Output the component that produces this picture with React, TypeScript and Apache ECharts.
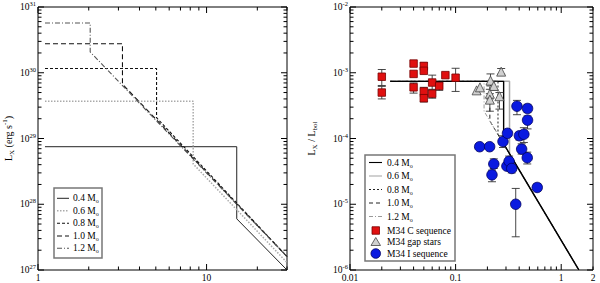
import React, { useEffect, useRef } from 'react';
import * as echarts from 'echarts';

const FONT = 'Liberation Serif';

// ---------- Left panel (L_X vs period) ----------
const leftX = [1, 30];
const leftY = [1e27, 1e31];
const massNames = ['0.4', '0.6', '0.8', '1.0', '1.2'];
const lTrack04 = [[1.1, 7.5e28], [15.1, 7.5e28], [15.1, 6.0e27], [30, 1.0e27]];
const lTrack06 = [[1.1, 3.7e29], [8.33, 3.7e29], [8.33, 4.1e28], [30, 1.3e27]];
const lTrack08 = [[1.1, 1.16e30], [5.05, 1.16e30], [5.05, 2.07e29], [30, 1.6e27]];
const lTrack10 = [[1.1, 2.76e30], [3.17, 2.76e30], [3.17, 6.7e29], [30, 1.6e27]];
const lTrack12 = [[1.1, 5.7e30], [2.04, 5.7e30], [2.04, 2.07e30], [30, 1.6e27]];

// ---------- Right panel (L_X/L_bol vs Rossby) ----------
const rightX = [0.01, 2];
const rightY = [1e-6, 1e-2];
const rTrack04 = [[0.024, 7.4e-4], [0.285, 7.4e-4], [0.285, 8.3e-5], [1.47, 1e-6]];
const rTrack06 = [[0.024, 7.4e-4], [0.324, 7.4e-4], [0.324, 5.8e-5], [1.47, 1e-6]];
const rTrack08 = [[0.024, 7.4e-4], [0.252, 7.4e-4], [0.252, 1.15e-4], [1.47, 1e-6]];
const rTrack10 = [[0.024, 7.4e-4], [0.211, 7.4e-4], [0.211, 1.85e-4], [1.47, 1e-6]];
const rTrack12 = [[0.024, 7.4e-4], [0.186, 7.4e-4], [0.186, 2.6e-4], [1.47, 1e-6]];

// [x, y, errLow, errHigh]
const cSequence: (number | null)[][] = [
  [0.02, 8.7e-4, 6.4e-4, 1.12e-3],
  [0.02, 5.0e-4, 4.0e-4, 6.2e-4],
  [0.04, 1.38e-3, null, null],
  [0.04, 9.6e-4, null, null],
  [0.04, 6.0e-4, 4.9e-4, 7.0e-4],
  [0.05, 1.27e-3, 1.1e-3, 1.42e-3],
  [0.05, 1.07e-3, null, null],
  [0.05, 5.2e-4, 4.4e-4, 6.0e-4],
  [0.05, 4.1e-4, 3.6e-4, 4.6e-4],
  [0.06, 7.1e-4, 5.6e-4, 9.2e-4],
  [0.06, 4.8e-4, 4.1e-4, 5.5e-4],
  [0.07, 6.3e-4, 5.4e-4, 7.0e-4],
  [0.08, 9.2e-4, null, null],
  [0.1, 8.4e-4, 5.2e-4, 1.17e-3],
];
const gapStars: (number | null)[][] = [
  [0.158, 5.4e-4, null, null],
  [0.17, 6.0e-4, null, null],
  [0.214, 7.6e-4, 6.3e-4, 9.6e-4],
  [0.23, 6.3e-4, 5.4e-4, 7.4e-4],
  [0.211, 4.8e-4, 4.0e-4, 5.6e-4],
  [0.211, 3.9e-4, 2.6e-4, 4.8e-4],
  [0.26, 4.4e-4, 2.8e-4, 5.0e-4],
  [0.27, 1.04e-3, 9.5e-4, 1.16e-3],
];
const iSequence: (number | null)[][] = [
  [0.169, 7.5e-5, null, null],
  [0.21, 7.5e-5, null, null],
  [0.23, 4.1e-5, 3.5e-5, 4.9e-5],
  [0.221, 2.8e-5, 2.2e-5, 3.3e-5],
  [0.281, 9.0e-5, 7.3e-5, 1.1e-4],
  [0.31, 1.2e-4, null, null],
  [0.306, 3.8e-5, null, null],
  [0.321, 4.5e-5, 3.9e-5, 5.4e-5],
  [0.34, 3.5e-5, 3.0e-5, 4.0e-5],
  [0.381, 3.1e-4, 2.3e-4, 3.8e-4],
  [0.402, 1.1e-4, 9.5e-5, 1.25e-4],
  [0.371, 1.0e-5, 3.2e-6, 1.74e-5],
  [0.422, 6.9e-5, 5.8e-5, 8.3e-5],
  [0.443, 1.16e-4, 8.7e-5, 1.46e-4],
  [0.48, 2.86e-4, 2.5e-4, 3.3e-4],
  [0.48, 1.9e-4, 1.4e-4, 2.2e-4],
  [0.477, 5.1e-5, 4.1e-5, 6.2e-5],
  [0.593, 1.8e-5, 1.6e-5, 2.05e-5],
];
const pointLabels = ['M34 C sequence', 'M34 gap stars', 'M34 I sequence'];

// ---------- helpers ----------
function logTicks(lo: number, hi: number) {
  const out: { v: number; major: number }[] = [];
  for (let k = Math.floor(Math.log10(lo)); k <= Math.ceil(Math.log10(hi)); k++) {
    for (let m = 1; m <= 9; m++) {
      const v = Number((m * Math.pow(10, k)).toPrecision(6));
      if (v >= lo * 0.9999 && v <= hi * 1.0001) out.push({ v, major: m === 1 ? 1 : 0 });
    }
  }
  return out;
}

function tickSeries(idx: number, xr: number[], yr: number[]) {
  const xt = logTicks(xr[0], xr[1]);
  const yt = logTicks(yr[0], yr[1]);
  const data = [
    ...xt.map((t) => [t.v, yr[0], 0, t.major]),
    ...yt.map((t) => [xr[0], t.v, 1, t.major]),
  ];
  return {
    type: 'custom',
    xAxisIndex: idx,
    yAxisIndex: idx,
    silent: true,
    clip: false,
    z: 10,
    data,
    renderItem: (params: any, api: any) => {
      const cs = params.coordSys;
      const p = api.coord([api.value(0), api.value(1)]);
      const len = api.value(3) ? 6 : 3.5;
      const style = { stroke: '#000', lineWidth: 1 };
      if (api.value(2) === 0) {
        const x = p[0];
        const b = cs.y + cs.height;
        return {
          type: 'group',
          children: [
            { type: 'line', shape: { x1: x, y1: b, x2: x, y2: b - len }, style },
            { type: 'line', shape: { x1: x, y1: cs.y, x2: x, y2: cs.y + len }, style },
          ],
        };
      }
      const y = p[1];
      const r = cs.x + cs.width;
      return {
        type: 'group',
        children: [
          { type: 'line', shape: { x1: cs.x, y1: y, x2: cs.x + len, y2: y }, style },
          { type: 'line', shape: { x1: r, y1: y, x2: r - len, y2: y }, style },
        ],
      };
    },
  };
}

function errSeries(idx: number, rows: (number | null)[][]) {
  return {
    type: 'custom',
    xAxisIndex: idx,
    yAxisIndex: idx,
    silent: true,
    z: 3,
    data: rows.filter((d) => d[2] != null).map((d) => [d[0], d[1], d[2], d[3]]),
    renderItem: (params: any, api: any) => {
      const lo = api.coord([api.value(0), api.value(2)]);
      const hi = api.coord([api.value(0), api.value(3)]);
      const w = 4;
      const style = { stroke: '#333', lineWidth: 0.9 };
      return {
        type: 'group',
        children: [
          { type: 'line', shape: { x1: lo[0], y1: lo[1], x2: hi[0], y2: hi[1] }, style },
          { type: 'line', shape: { x1: lo[0] - w, y1: lo[1], x2: lo[0] + w, y2: lo[1] }, style },
          { type: 'line', shape: { x1: hi[0] - w, y1: hi[1], x2: hi[0] + w, y2: hi[1] }, style },
        ],
      };
    },
  };
}

const richTick = {
  b: { fontFamily: FONT, fontSize: 9.5, color: '#000', lineHeight: 14 },
  s: { fontFamily: FONT, fontSize: 6.5, color: '#000', lineHeight: 8, verticalAlign: 'top' },
};
const richName = {
  b: { fontFamily: FONT, fontSize: 10, color: '#000', lineHeight: 14 },
  sub: { fontFamily: FONT, fontSize: 7, color: '#000', lineHeight: 7, verticalAlign: 'bottom' },
  sup: { fontFamily: FONT, fontSize: 7, color: '#000', lineHeight: 8, verticalAlign: 'top' },
};
const richLeg = {
  b: { fontFamily: FONT, fontSize: 9.5, color: '#000', lineHeight: 12 },
  s: { fontFamily: FONT, fontSize: 6, color: '#000', lineHeight: 6, verticalAlign: 'bottom' },
};

const expFmt = (v: number) => `{b|10}{s|${Math.round(Math.log10(v))}}`;
const numFmt = (v: number) => String(Number(v.toPrecision(6)));

const leftStyles = [
  { color: '#222', width: 1, type: 'solid' },
  { color: '#aaa', width: 1.5, type: [1.5, 1.5] },
  { color: '#111', width: 1.1, type: [3, 2] },
  { color: '#111', width: 1.1, type: [5, 3] },
  { color: '#555', width: 1.1, type: [5, 2, 1, 2] },
];
const rightStyles = [
  { color: '#000', width: 1.4, type: 'solid' },
  { color: '#aaa', width: 1.5, type: 'solid' },
  { color: '#222', width: 1, type: [2, 2] },
  { color: '#222', width: 1, type: [4, 3] },
  { color: '#999', width: 1, type: [4, 2, 1, 2] },
];
const leftTracks = [lTrack04, lTrack06, lTrack08, lTrack10, lTrack12];
const rightTracks = [rTrack04, rTrack06, rTrack08, rTrack10, rTrack12];

function legendGraphics() {
  const g: any[] = [];
  // left legend box
  g.push({ type: 'rect', shape: { x: 54, y: 188, width: 48, height: 70 }, style: { fill: '#fff', stroke: '#777', lineWidth: 1.5 }, z: 20 });
  const lRows = [198.3, 210.7, 223.3, 236, 248.3];
  massNames.forEach((m, i) => {
    const s = leftStyles[i];
    g.push({ type: 'line', shape: { x1: 57, y1: lRows[i], x2: 69, y2: lRows[i] }, style: { stroke: s.color, lineWidth: s.width, lineDash: s.type === 'solid' ? null : s.type }, z: 21 });
    g.push({ type: 'text', x: 73, y: lRows[i], style: { text: `{b|${m} M}{s|o}`, rich: richLeg, verticalAlign: 'middle', align: 'left' }, z: 21 });
  });
  // right legend box
  g.push({ type: 'rect', shape: { x: 365, y: 155, width: 90, height: 106 }, style: { fill: '#fff', stroke: '#777', lineWidth: 1.5 }, z: 20 });
  const rRows = [162.5, 176, 189.5, 203, 216.5];
  massNames.forEach((m, i) => {
    const s = rightStyles[i];
    g.push({ type: 'line', shape: { x1: 369, y1: rRows[i], x2: 382, y2: rRows[i] }, style: { stroke: s.color, lineWidth: Math.min(s.width, 1.1), lineDash: s.type === 'solid' ? null : s.type }, z: 21 });
    g.push({ type: 'text', x: 387, y: rRows[i], style: { text: `{b|${m} M}{s|o}`, rich: richLeg, verticalAlign: 'middle', align: 'left' }, z: 21 });
  });
  const pRows = [230.5, 242, 253.5];
  g.push({ type: 'rect', shape: { x: 372, y: pRows[0] - 3.75, width: 7.5, height: 7.5 }, style: { fill: '#e01010', stroke: '#700', lineWidth: 0.8 }, z: 21 });
  g.push({ type: 'polygon', shape: { points: [[375.75, pRows[1] - 4.5], [371, pRows[1] + 3.5], [380.5, pRows[1] + 3.5]] }, style: { fill: '#d0d0d0', stroke: '#444', lineWidth: 0.8 }, z: 21 });
  g.push({ type: 'circle', shape: { cx: 375.75, cy: pRows[2], r: 4.8 }, style: { fill: '#0a1ae0', stroke: '#000060', lineWidth: 0.8 }, z: 21 });
  pointLabels.forEach((t, i) => {
    g.push({ type: 'text', x: 387, y: pRows[i], style: { text: t, fontFamily: FONT, fontSize: 9.5, fill: '#000', verticalAlign: 'middle', align: 'left' }, z: 21 });
  });
  return g;
}

function buildOption() {
  const axisCommon = {
    type: 'log',
    logBase: 10,
    axisLine: { show: false },
    axisTick: { show: false },
    splitLine: { show: false },
  };
  const series: any[] = [];
  leftTracks.forEach((t, i) => {
    const s = leftStyles[i];
    series.push({ type: 'line', xAxisIndex: 0, yAxisIndex: 0, data: t, symbol: 'none', silent: true, z: 2, lineStyle: { color: s.color, width: s.width, type: s.type } });
  });
  rightTracks.forEach((t, i) => {
    const s = rightStyles[i];
    series.push({ type: 'line', xAxisIndex: 1, yAxisIndex: 1, data: t, symbol: 'none', silent: true, z: 2 + (i === 0 ? 0.5 : 0), lineStyle: { color: s.color, width: s.width, type: s.type } });
  });
  series.push(errSeries(1, cSequence), errSeries(1, gapStars), errSeries(1, iSequence));
  series.push({ type: 'scatter', xAxisIndex: 1, yAxisIndex: 1, symbol: 'rect', symbolSize: 7.5, z: 4, data: cSequence.map((d) => [d[0], d[1]]), itemStyle: { color: '#e01010', borderColor: '#700', borderWidth: 0.8, opacity: 1 } });
  series.push({ type: 'scatter', xAxisIndex: 1, yAxisIndex: 1, symbol: 'triangle', symbolSize: 9, z: 4, data: gapStars.map((d) => [d[0], d[1]]), itemStyle: { color: '#d0d0d0', borderColor: '#444', borderWidth: 0.8, opacity: 1 } });
  series.push({ type: 'scatter', xAxisIndex: 1, yAxisIndex: 1, symbol: 'circle', symbolSize: 10.5, z: 4, data: iSequence.map((d) => [d[0], d[1]]), itemStyle: { color: '#0a1ae0', borderColor: '#000060', borderWidth: 0.8, opacity: 1 } });
  series.push(tickSeries(0, leftX, leftY), tickSeries(1, rightX, rightY));

  return {
    animation: false,
    backgroundColor: '#fff',
    grid: [
      { left: 37, top: 6, width: 250, height: 267, show: true, borderColor: '#000', borderWidth: 1, backgroundColor: 'transparent' },
      { left: 350, top: 6, width: 243, height: 267, show: true, borderColor: '#000', borderWidth: 1, backgroundColor: 'transparent' },
    ],
    xAxis: [
      { ...axisCommon, gridIndex: 0, min: leftX[0], max: leftX[1], axisLabel: { margin: 3, interval: 0, fontFamily: FONT, fontSize: 9.5, color: '#000', formatter: (v: number) => (Math.abs(Math.log10(v) - Math.round(Math.log10(v))) < 1e-6 ? numFmt(v) : '') } },
      { ...axisCommon, gridIndex: 1, min: rightX[0], max: rightX[1], axisLabel: { margin: 3, interval: 0, fontFamily: FONT, fontSize: 9.5, color: '#000', formatter: (v: number) => numFmt(v) } },
    ],
    yAxis: [
      { ...axisCommon, gridIndex: 0, min: leftY[0], max: leftY[1], axisLabel: { margin: 2, interval: 0, formatter: expFmt, rich: richTick }, name: '{b|L}{sub|X}{b| (erg s}{sup|-1}{b|)}', nameLocation: 'middle', nameGap: 23, nameTextStyle: { rich: richName } },
      { ...axisCommon, gridIndex: 1, min: rightY[0], max: rightY[1], axisLabel: { margin: 2, interval: 0, formatter: expFmt, rich: richTick }, name: '{b|L}{sub|X}{b| / L}{sub|bol}', nameLocation: 'middle', nameGap: 32, nameTextStyle: { rich: richName } },
    ],
    graphic: legendGraphics(),
    series,
  };
}

export default function App() {
  const ref = useRef<HTMLDivElement>(null);
  useEffect(() => {
    if (!ref.current) return;
    const chart = echarts.init(ref.current, null, { renderer: 'svg' });
    chart.setOption(buildOption() as any);
    return () => chart.dispose();
  }, []);
  return <div ref={ref} style={{ position: 'absolute', left: 0, top: 0, width: 600, height: 283, background: '#fff' }} />;
}
